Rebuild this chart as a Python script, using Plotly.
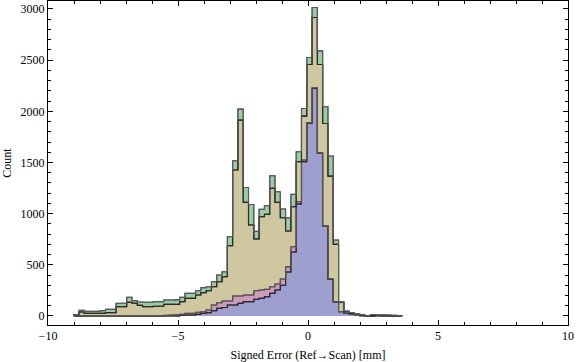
import numpy as np
import plotly.graph_objects as go

# Histogram bins (mm)
BIN_START = -9.01
BIN_WIDTH = 0.2037
N_BINS = 62

# Cumulative (stacked) tops per bin
purple_top = [0, 0, 0, 0, 0, 0, 0, 0, 0, 0,
              0, 0, 0, 0, 0, 0, 0, 0, 0, 0,
              7, 10, 10, 16, 26, 33, 52, 75, 83, 107,
              107, 124, 140, 140, 163, 172, 189, 221, 254, 300,
              430, 625, 1094, 1507, 1882, 2223, 1592, 879, 358, 137,
              42, 26, 20, 12, 4, 1, 1, 2, 1, 1, 1, 0]
pink_top = [0, 0, 0, 0, 0, 0, 0, 0, 0, 0,
            0, 0, 0, 0, 0, 0, 0, 8, 10, 12,
            16, 26, 26, 36, 42, 59, 107, 130, 146, 146,
            195, 195, 205, 205, 247, 254, 260, 286, 312, 361,
            480, 677, 1116, 1525, 1890, 2230, 1595, 885, 362, 140,
            44, 27, 21, 12, 4, 1, 1, 2, 1, 1, 1, 0]
tan_top = [12, 39, 26, 26, 26, 26, 33, 33, 91, 91,
           133, 124, 104, 91, 91, 95, 95, 114, 114, 114,
           140, 172, 172, 205, 228, 247, 286, 335, 384, 687,
           1426, 1914, 1110, 889, 752, 970, 993, 1247, 1110, 960,
           830, 1068, 1507, 1953, 2458, 2917, 2458, 1881, 1367, 700,
           133, 42, 28, 17, 8, 3, 4, 6, 6, 5, 4, 2]
green_top = [15, 55, 45, 45, 45, 52, 65, 65, 124, 124,
             182, 150, 137, 133, 133, 140, 140, 156, 156, 158,
             182, 221, 221, 247, 277, 286, 335, 400, 433, 775,
             1517, 2021, 1256, 1090, 827, 1042, 1077, 1370, 1214, 1045,
             960, 1188, 1605, 2028, 2526, 3015, 2591, 2044, 1563, 742,
             137, 49, 33, 20, 12, 4, 14, 10, 9, 9, 8, 3]

x_ticks = [-10, -5, 0, 5, 10]
y_ticks = [0, 500, 1000, 1500, 2000, 2500, 3000]

layers = [
    ("purple", purple_top, "rgb(159,159,207)", "#2a2a2a"),
    ("pink", pink_top, "rgb(206,155,190)", "#555555"),
    ("tan", tan_top, "rgb(206,199,159)", "#2a2a2a"),
    ("green", green_top, "rgb(155,204,166)", "#5a5a5a"),
]

edges = BIN_START + BIN_WIDTH * np.arange(N_BINS + 1)
xs = np.concatenate([[edges[0]], edges, [edges[-1]]])

fig = go.Figure()
for i, (name, vals, fill, lc) in enumerate(layers):
    v = np.asarray(vals, dtype=float)
    ys = np.concatenate([[0.0], v, [v[-1]], [0.0]])
    fig.add_trace(go.Scatter(
        x=xs, y=ys, mode="lines", name=name,
        line=dict(shape="hv", color=lc, width=1.1),
        fill="tozeroy" if i == 0 else "tonexty",
        fillcolor=fill, hoverinfo="skip", showlegend=False,
    ))

# redraw outlines on top so fills don't cover them
for i, (name, vals, fill, lc) in enumerate(layers):
    v = np.asarray(vals, dtype=float)
    ys = np.concatenate([[0.0], v, [v[-1]], [0.0]])
    fig.add_trace(go.Scatter(
        x=xs, y=ys, mode="lines",
        line=dict(shape="hv", color=lc, width=1.1),
        hoverinfo="skip", showlegend=False,
    ))

font = "Liberation Serif, Times New Roman, serif"
fig.update_layout(
    width=576, height=362,
    margin=dict(l=48, r=8, t=1, b=37),
    paper_bgcolor="white", plot_bgcolor="white",
    font=dict(family=font, size=12, color="black"),
    xaxis=dict(
        range=[-10, 10], tickvals=x_ticks,
        ticktext=["\u221210", "\u22125", "0", "5", "10"],
        ticks="inside", ticklen=5, tickwidth=1, tickcolor="black",
        minor=dict(dtick=1, ticks="inside", ticklen=3, tickcolor="black"),
        showline=True, linecolor="black", linewidth=1, mirror="ticks",
        showgrid=False, zeroline=False,
        title=dict(text="Signed Error (Ref\u2192Scan) [mm]", standoff=9,
                   font=dict(size=12)),
        tickfont=dict(size=12),
    ),
    yaxis=dict(
        range=[-88, 3078], tickvals=y_ticks,
        ticks="inside", ticklen=5, tickwidth=1, tickcolor="black",
        minor=dict(dtick=100, ticks="inside", ticklen=3, tickcolor="black"),
        showline=True, linecolor="black", linewidth=1, mirror="ticks",
        showgrid=False, zeroline=False,
        title=dict(text="Count", standoff=7, font=dict(size=12)),
        tickfont=dict(size=12),
    ),
)

fig.write_html(
    "out.html",
    config={"displayModeBar": False},
    post_script="document.body.style.margin='0';document.body.style.padding='0';",
)
